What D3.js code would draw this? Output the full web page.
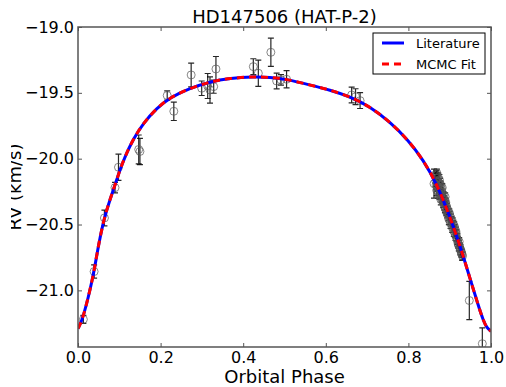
<!DOCTYPE html>
<html>
<head>
<meta charset="utf-8">
<script src="https://cdn.jsdelivr.net/npm/d3@7"></script>
<style>
  body { margin: 0; background: #fff; }
  text { font-family: "DejaVu Sans", sans-serif; fill: #000; }
</style>
</head>
<body>
<div id="chart"></div>
<script>
// model curve (both fits lie on top of each other)
const curvePhase = [0, 0.0128, 0.037, 0.0453, 0.0613, 0.0775, 0.0937, 0.1017, 0.1138, 0.1339, 0.158, 0.1906, 0.2228, 0.2712, 0.3196, 0.368, 0.4245, 0.4649, 0.5053, 0.5617, 0.61, 0.6586, 0.707, 0.7554, 0.7998, 0.836, 0.8685, 0.9007, 0.929, 0.9492, 0.9692, 0.9814, 0.991, 1.0];
const litRV = [-21.291, -21.21, -20.894, -20.73, -20.47, -20.31, -20.161, -20.085, -19.984, -19.85, -19.731, -19.617, -19.535, -19.465, -19.415, -19.389, -19.377, -19.382, -19.397, -19.44, -19.478, -19.529, -19.605, -19.72, -19.86, -20.01, -20.19, -20.44, -20.70, -20.91, -21.115, -21.23, -21.29, -21.31];
const fitRV = [-21.291, -21.21, -20.894, -20.73, -20.47, -20.31, -20.161, -20.085, -19.984, -19.85, -19.731, -19.617, -19.535, -19.465, -19.415, -19.389, -19.377, -19.382, -19.397, -19.44, -19.478, -19.529, -19.605, -19.72, -19.86, -20.01, -20.19, -20.44, -20.70, -20.91, -21.115, -21.23, -21.29, -21.31];

// RV measurements
const obsPhase = [0.013, 0.039, 0.064, 0.0896, 0.098, 0.147, 0.150, 0.216, 0.232, 0.274, 0.2995, 0.314, 0.3196, 0.3285, 0.334, 0.4245, 0.4366, 0.467, 0.481, 0.4915, 0.505, 0.6626, 0.672, 0.683, 0.862,
  0.866, 0.867, 0.868, 0.869, 0.870, 0.871, 0.872, 0.873, 0.874, 0.875, 0.876, 0.877, 0.878, 0.879, 0.880, 0.881, 0.882, 0.883, 0.884, 0.885, 0.886, 0.887, 0.888, 0.889, 0.890, 0.891, 0.892, 0.893, 0.894, 0.895,
  0.897, 0.899, 0.901, 0.903, 0.905, 0.907, 0.909, 0.911, 0.913, 0.915, 0.917, 0.919, 0.921, 0.923, 0.925, 0.927, 0.929, 0.931,
  0.8665, 0.8675, 0.8685, 0.8695, 0.8705, 0.8715, 0.8725, 0.8735, 0.8745, 0.8755, 0.8765, 0.8775, 0.8785, 0.8795, 0.8805, 0.8825, 0.8845, 0.8865, 0.8885, 0.8905, 0.8925,
  0.896, 0.898, 0.900, 0.902, 0.904, 0.906, 0.908, 0.910, 0.912, 0.914, 0.916, 0.918, 0.920, 0.922, 0.924, 0.926, 0.928, 0.930,
  0.9475, 0.979];
const obsRV = [-21.22, -20.857, -20.45, -20.22, -20.065, -19.93, -19.945, -19.52, -19.64, -19.364, -19.465, -19.448, -19.478, -19.453, -19.319, -19.301, -19.351, -19.192, -19.41, -19.402, -19.397, -19.516, -19.529, -19.559, -20.19,
  -20.13, -20.20, -20.15, -20.11, -20.22, -20.17, -20.14, -20.25, -20.19, -20.16, -20.23, -20.27, -20.20, -20.24, -20.30, -20.26, -20.22, -20.29, -20.33, -20.28, -20.31, -20.36, -20.33, -20.29, -20.38, -20.35, -20.40, -20.37, -20.42, -20.39,
  -20.44, -20.41, -20.47, -20.45, -20.50, -20.48, -20.53, -20.51, -20.57, -20.55, -20.60, -20.62, -20.65, -20.63, -20.68, -20.70, -20.72, -20.74,
  -20.17, -20.12, -20.24, -20.18, -20.15, -20.21, -20.26, -20.18, -20.22, -20.28, -20.19, -20.25, -20.31, -20.27, -20.23, -20.31, -20.30, -20.34, -20.37, -20.33, -20.38,
  -20.41, -20.46, -20.43, -20.49, -20.47, -20.52, -20.50, -20.55, -20.53, -20.58, -20.57, -20.61, -20.64, -20.66, -20.67, -20.69, -20.71, -20.73,
  -21.077, -21.405];
const obsErr = [0.03, 0.05, 0.06, 0.04, 0.1, 0.11, 0.1, 0.035, 0.07, 0.09, 0.055, 0.095, 0.1, 0.05, 0.095, 0.06, 0.1, 0.107, 0.06, 0.04, 0.065, 0.06, 0.06, 0.06, 0.11,
  0.03, 0.03, 0.04, 0.03, 0.03, 0.04, 0.03, 0.03, 0.03, 0.04, 0.03, 0.03, 0.03, 0.04, 0.03, 0.03, 0.03, 0.03, 0.04, 0.03, 0.03, 0.03, 0.03, 0.03, 0.03, 0.03, 0.03, 0.03, 0.03, 0.03,
  0.03, 0.03, 0.03, 0.03, 0.03, 0.03, 0.03, 0.03, 0.03, 0.03, 0.03, 0.03, 0.03, 0.03, 0.03, 0.03, 0.03, 0.03,
  0.04, 0.03, 0.04, 0.03, 0.04, 0.03, 0.04, 0.03, 0.04, 0.03, 0.04, 0.03, 0.04, 0.03, 0.04, 0.03, 0.04, 0.03, 0.04, 0.03, 0.04,
  0.03, 0.04, 0.03, 0.04, 0.03, 0.04, 0.03, 0.04, 0.03, 0.04, 0.03, 0.04, 0.03, 0.04, 0.03, 0.04, 0.03, 0.04,
  0.145, 0.12];

const xTicks = [0.0, 0.2, 0.4, 0.6, 0.8, 1.0];
const yTicks = [-21.0, -20.5, -20.0, -19.5, -19.0];
const seriesNames = ['Literature', 'MCMC Fit'];

const width = 506;
const height = 387;
const margin = { top: 27, right: 15, bottom: 40, left: 78 };

const x = d3.scaleLinear().domain([0, 1]).range([margin.left, width - margin.right]);
const y = d3.scaleLinear().domain([-21.43, -19.0]).range([height - margin.bottom, margin.top]);

const svg = d3.select('#chart').append('svg')
  .attr('width', width)
  .attr('height', height);

const defs = svg.append('defs');
defs.append('clipPath').attr('id', 'plot-clip')
  .append('rect')
  .attr('x', margin.left).attr('y', margin.top)
  .attr('width', width - margin.left - margin.right)
  .attr('height', height - margin.top - margin.bottom);
// the y label sits partly past the figure's left edge
defs.append('clipPath').attr('id', 'ylabel-clip')
  .append('rect')
  .attr('x', 11).attr('y', 0)
  .attr('width', 40).attr('height', height);

const obs = obsPhase.map((p, i) => ({ p: p, v: obsRV[i], e: obsErr[i] }));

const plot = svg.append('g').attr('clip-path', 'url(#plot-clip)');

// error bars
const bars = plot.append('g')
  .attr('stroke', '#000')
  .attr('stroke-opacity', 0.85)
  .attr('stroke-width', 1.2);

bars.selectAll('.eb')
  .data(obs)
  .enter()
  .append('path')
  .attr('class', 'eb')
  .attr('fill', 'none')
  .attr('d', d => {
    const cx = x(d.p), y1 = y(d.v + d.e), y2 = y(d.v - d.e);
    return 'M' + cx + ',' + y1 + 'V' + y2 +
      'M' + (cx - 3) + ',' + y1 + 'H' + (cx + 3) +
      'M' + (cx - 3) + ',' + y2 + 'H' + (cx + 3);
  });

plot.selectAll('.dot')
  .data(obs)
  .enter()
  .append('circle')
  .attr('class', 'dot')
  .attr('cx', d => x(d.p))
  .attr('cy', d => y(d.v))
  .attr('r', 4)
  .attr('fill', 'none')
  .attr('stroke', '#555')
  .attr('stroke-opacity', 0.7)
  .attr('stroke-width', 1);

const line = d3.line()
  .x(d => x(d[0]))
  .y(d => y(d[1]))
  .curve(d3.curveBasis);

plot.append('path')
  .datum(curvePhase.map((p, i) => [p, litRV[i]]))
  .attr('fill', 'none')
  .attr('stroke', '#0000ff')
  .attr('stroke-width', 3)
  .attr('d', line);

plot.append('path')
  .datum(curvePhase.map((p, i) => [p, fitRV[i]]))
  .attr('fill', 'none')
  .attr('stroke', '#ff0000')
  .attr('stroke-width', 3)
  .attr('stroke-dasharray', '7,5')
  .attr('d', line);

// axes, matplotlib style: ticks inside on all four sides
const fmt = d3.format('.1f');
const axisColor = '#555';

const xAxis = svg.append('g')
  .attr('transform', 'translate(0,' + (height - margin.bottom) + ')')
  .call(d3.axisBottom(x).tickValues(xTicks).tickFormat(fmt).tickSizeInner(-4).tickSizeOuter(0).tickPadding(5));
const yAxis = svg.append('g')
  .attr('transform', 'translate(' + margin.left + ',0)')
  .call(d3.axisLeft(y).tickValues(yTicks).tickFormat(fmt).tickSizeInner(-4).tickSizeOuter(0).tickPadding(4));
const xTop = svg.append('g')
  .attr('transform', 'translate(0,' + margin.top + ')')
  .call(d3.axisTop(x).tickValues(xTicks).tickFormat('').tickSizeInner(-4).tickSizeOuter(0));
const yRight = svg.append('g')
  .attr('transform', 'translate(' + (width - margin.right) + ',0)')
  .call(d3.axisRight(y).tickValues(yTicks).tickFormat('').tickSizeInner(-4).tickSizeOuter(0));

[xAxis, yAxis, xTop, yRight].forEach(g => {
  g.select('.domain').remove();
  g.selectAll('line').attr('stroke', axisColor);
  g.selectAll('text').style('font-size', '16px').attr('fill', '#000');
});
xAxis.selectAll('text').attr('dy', '0.71em');

svg.append('rect')
  .attr('x', margin.left)
  .attr('y', margin.top)
  .attr('width', width - margin.left - margin.right)
  .attr('height', height - margin.top - margin.bottom)
  .attr('fill', 'none')
  .attr('stroke', axisColor)
  .attr('stroke-width', 1.5);

svg.append('text')
  .attr('x', (margin.left + width - margin.right) / 2)
  .attr('y', 23)
  .attr('text-anchor', 'middle')
  .style('font-size', '18px')
  .text('HD147506 (HAT-P-2)');

svg.append('text')
  .attr('x', (margin.left + width - margin.right) / 2)
  .attr('y', 383)
  .attr('text-anchor', 'middle')
  .style('font-size', '18px')
  .text('Orbital Phase');

svg.append('g')
  .attr('clip-path', 'url(#ylabel-clip)')
  .append('text')
  .attr('transform', 'translate(21,' + (height - margin.bottom + margin.top) / 2 + ') rotate(-90)')
  .attr('text-anchor', 'middle')
  .style('font-size', '18px')
  .text('RV (km/s)');

// legend
const legend = svg.append('g').attr('id', 'legend');
legend.append('rect')
  .attr('x', 373).attr('y', 33)
  .attr('width', 112).attr('height', 41)
  .attr('fill', '#fff')
  .attr('stroke', '#000')
  .attr('stroke-width', 1);

const legendColors = ['#0000ff', '#ff0000'];
const legendDash = [null, '7,5'];
seriesNames.forEach((name, i) => {
  const ly = 43 + i * 21;
  legend.append('line')
    .attr('x1', 382).attr('x2', 404)
    .attr('y1', ly).attr('y2', ly)
    .attr('stroke', legendColors[i])
    .attr('stroke-width', 3)
    .attr('stroke-dasharray', legendDash[i]);
  legend.append('text')
    .attr('x', 416)
    .attr('y', ly + 5)
    .style('font-size', '13px')
    .text(name);
});
</script>
</body>
</html>
